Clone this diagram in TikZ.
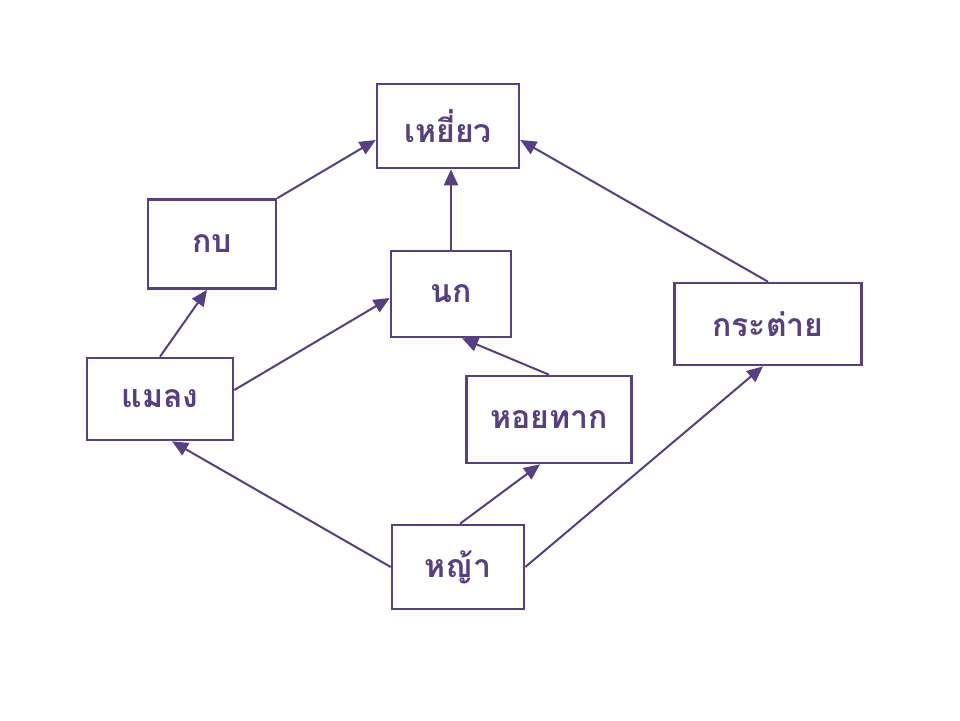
\documentclass[tikz,border=0pt]{standalone}
\usepackage{fontspec}
\newfontfamily\thaifont[Script=Thai]{Loma}
\usetikzlibrary{arrows.meta}
\definecolor{ink}{RGB}{88,62,130}
\begin{document}
\begin{tikzpicture}[x=1pt,y=-1pt,
  box/.style={draw=ink,line width=2.6pt,fill=white,inner sep=0pt,text=ink,
    font=\thaifont\bfseries\fontsize{32}{38}\selectfont},
  arr/.style={draw=ink,line width=2pt,-{Triangle[length=16pt,width=14pt]}}]
\useasboundingbox (0,0) rectangle (960,720);
\node[box,minimum width=142pt,minimum height=84pt] (hawk) at (448,126) {เหยี่ยว};
\node[box,minimum width=128pt,minimum height=89pt] (frog) at (212,244) {กบ};
\node[box,minimum width=120pt,minimum height=86pt] (bird) at (451,294) {นก};
\node[box,minimum width=165pt,minimum height=87pt] (snail) at (549,419.5) {หอยทาก};
\node[box,minimum width=187pt,minimum height=82pt] (rabbit) at (768,324) {กระต่าย};
\node[box,minimum width=146pt,minimum height=82pt] (insect) at (160,399) {แมลง};
\node[box,minimum width=132pt,minimum height=84pt] (grass) at (458,567) {หญ้า};
\draw[arr] (frog.north east) -- ([yshift=-14pt]hawk.west);
\draw[arr] (bird.north) -- (bird.north |- hawk.south);
\draw[arr] (rabbit.north) -- ([yshift=-14pt]hawk.east);
\draw[arr] (insect.north) -- ([xshift=-5pt]frog.south);
\draw[arr] ([yshift=9pt]insect.east) -- ([yshift=-4pt]bird.west);
\draw[arr] (snail.north) -- ([xshift=11pt]bird.south);
\draw[arr] (grass.west) -- ([xshift=12pt]insect.south);
\draw[arr] ([xshift=2pt]grass.north) -- ([xshift=-9pt]snail.south);
\draw[arr] (grass.east) -- ([xshift=-5pt]rabbit.south);
\end{tikzpicture}
\end{document}
